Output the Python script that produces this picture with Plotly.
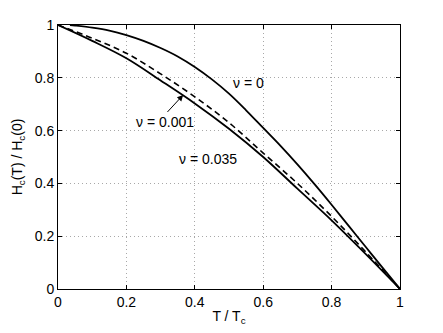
import plotly.graph_objects as go

# T / Tc values
t_nu0 = [0.035, 0.05, 0.1, 0.15, 0.2, 0.25, 0.3, 0.35, 0.4, 0.45, 0.5, 0.55, 0.6,
         0.65, 0.7, 0.75, 0.8, 0.85, 0.9, 0.95, 1.0]
h_nu0 = [1.0, 0.998, 0.99, 0.979, 0.962, 0.940, 0.913, 0.881, 0.841, 0.794, 0.740,
         0.677, 0.610, 0.543, 0.472, 0.397, 0.319, 0.239, 0.159, 0.079, 0.0]

t_nu001 = [0, 0.1, 0.2, 0.3, 0.4, 0.5, 0.6, 0.7, 0.8, 0.9, 1.0]
h_nu001 = [1.0, 0.95, 0.893, 0.815, 0.728, 0.63, 0.515, 0.40, 0.275, 0.14, 0.0]

t_nu035 = [0, 0.1, 0.2, 0.3, 0.4, 0.5, 0.6, 0.7, 0.8, 0.9, 1.0]
h_nu035 = [1.0, 0.94, 0.874, 0.79, 0.703, 0.607, 0.50, 0.38, 0.26, 0.132, 0.0]

ticks = [0, 0.2, 0.4, 0.6, 0.8, 1]
tick_text = ["0", "0.2", "0.4", "0.6", "0.8", "1"]

font = dict(family="Liberation Sans, Arial, sans-serif", size=14, color="black")

fig = go.Figure()
fig.add_trace(go.Scatter(x=t_nu0, y=h_nu0, mode="lines", line_shape="spline",
                         line=dict(color="black", width=1.8)))
fig.add_trace(go.Scatter(x=t_nu001, y=h_nu001, mode="lines", line_shape="spline",
                         line=dict(color="black", width=1.6, dash="6px,4px")))
fig.add_trace(go.Scatter(x=t_nu035, y=h_nu035, mode="lines", line_shape="spline",
                         line=dict(color="black", width=1.8)))

fig.add_annotation(x=0.556, y=0.78, text="\u03bd = 0", showarrow=False, font=font)
fig.add_annotation(x=0.439, y=0.492, text="\u03bd = 0.035", showarrow=False, font=font)
fig.add_annotation(x=0.313, y=0.633, text="\u03bd = 0.001", showarrow=False, font=font)
fig.add_annotation(x=0.366, y=0.735, ax=0.316, ay=0.665, axref="x", ayref="y",
                   text="", showarrow=True, arrowhead=2, arrowsize=1.2,
                   arrowwidth=1, arrowcolor="black")

axis = dict(range=[0, 1], tickvals=ticks, ticktext=tick_text, showgrid=True,
            gridcolor="#a8a8a8", griddash="1px,3px", gridwidth=1,
            showline=True, linecolor="black", linewidth=1, mirror="ticks",
            ticks="inside", ticklen=4, tickcolor="black", zeroline=False,
            tickfont=font, automargin=False)

fig.update_xaxes(**axis, title=dict(text="T / T<sub>c</sub>", font=font, standoff=2))
fig.update_yaxes(**axis, title=dict(text="H<sub>c</sub>(T) / H<sub>c</sub>(0)", font=font, standoff=8))

# page body has an 8px margin, so the figure is shifted by that
fig.update_layout(width=435, height=325, showlegend=False,
                  plot_bgcolor="white", paper_bgcolor="white",
                  margin=dict(l=50, r=43, t=17, b=44), font=font)

fig.write_html("out.html")
